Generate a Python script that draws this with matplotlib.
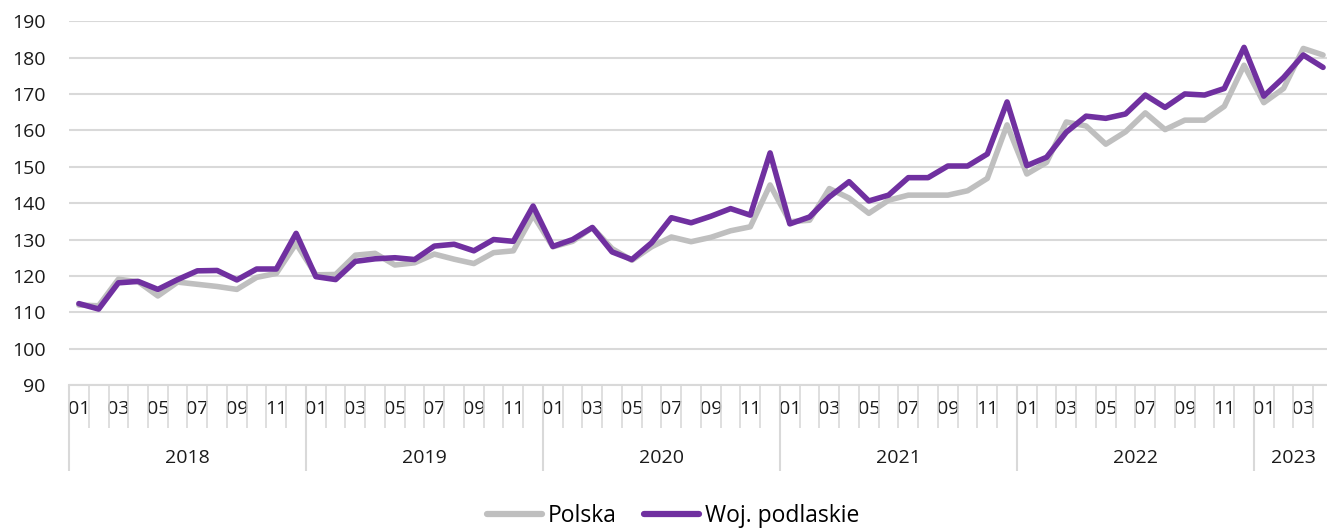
import numpy as np
import matplotlib
matplotlib.use('Agg')
import matplotlib.pyplot as plt
from matplotlib.ticker import FixedLocator, NullFormatter

# monthly index values, 2018-01 .. 2023-04
years = ['2018', '2019', '2020', '2021', '2022', '2023']
months_per_year = [12, 12, 12, 12, 12, 4]

polska = [112.0, 111.8, 119.1, 118.4, 114.5, 118.3, 117.7, 117.1, 116.3, 119.6, 120.7, 128.9,
          120.3, 120.4, 125.7, 126.2, 123.0, 123.6, 126.0, 124.6, 123.4, 126.4, 126.9, 136.7,
          128.0, 129.5, 133.3, 127.5, 124.3, 128.0, 130.7, 129.4, 130.6, 132.4, 133.5, 145.0,
          134.9, 135.3, 144.0, 141.4, 137.2, 140.8, 142.2, 142.2, 142.2, 143.4, 146.8, 161.5,
          148.0, 151.2, 162.3, 161.2, 156.2, 159.6, 164.8, 160.2, 162.8, 162.8, 166.6, 177.9,
          167.6, 171.5, 182.5, 180.7]

podlaskie = [112.4, 110.9, 118.1, 118.5, 116.3, 119.0, 121.4, 121.5, 118.9, 121.9, 121.9, 131.7,
             119.8, 119.0, 124.0, 124.7, 125.0, 124.5, 128.2, 128.7, 126.9, 130.0, 129.5, 139.2,
             128.1, 130.0, 133.3, 126.6, 124.5, 129.1, 136.0, 134.6, 136.4, 138.5, 136.7, 153.8,
             134.3, 136.2, 141.7, 145.9, 140.6, 142.2, 147.0, 147.0, 150.2, 150.2, 153.5, 167.8,
             150.3, 152.6, 159.5, 163.9, 163.3, 164.5, 169.7, 166.3, 170.0, 169.7, 171.5, 182.8,
             169.4, 174.5, 180.7, 177.3]

plt.rcParams['font.family'] = ['Open Sans', 'DejaVu Sans']

n = len(polska)
x = np.arange(n)
month_lab = []
for m in months_per_year:
    month_lab += ['%02d' % (k + 1) for k in range(m)]

fig = plt.figure(figsize=(13.27, 5.29), dpi=100)
ax = fig.add_axes([0.052, 0.272, 0.948, 0.688])

ax.plot(x, polska, color='#BFBFBF', lw=4.0, label='Polska', solid_capstyle='round', zorder=3)
ax.plot(x, podlaskie, color='#7030A0', lw=4.0, label='Woj. podlaskie', solid_capstyle='round', zorder=4)

ax.set_ylim(90, 190)
ax.set_yticks(np.arange(90, 191, 10))
ax.set_xlim(-0.5, n - 0.8)
ax.grid(axis='y', color='#D9D9D9', lw=1.5)
ax.set_axisbelow(True)
for s in ['top', 'right', 'left']:
    ax.spines[s].set_visible(False)
ax.spines['bottom'].set_color('#D9D9D9')
ax.spines['bottom'].set_linewidth(1.5)
ax.tick_params(axis='y', length=0, labelsize=14, pad=17, labelcolor='#1a1a1a')

# month labels on odd months, separators between months
ax.set_xticks(x[::2])
ax.set_xticklabels(month_lab[::2])
ax.xaxis.set_minor_locator(FixedLocator(np.arange(-0.5, n, 1.0)))
ax.tick_params(axis='x', which='major', length=0, labelsize=14, pad=11, labelcolor='#1a1a1a')
ax.tick_params(axis='x', which='minor', length=31, width=1.2, color='#D9D9D9')

# year level
bounds = np.cumsum([0] + months_per_year) - 0.5
centers = [(bounds[i] + bounds[i + 1]) / 2 for i in range(len(years))]
sec = ax.secondary_xaxis('bottom')
sec.spines['bottom'].set_visible(False)
sec.set_xticks(bounds[:-1])
sec.xaxis.set_major_formatter(NullFormatter())
sec.set_xticks(centers, minor=True)
sec.set_xticklabels(years, minor=True)
sec.tick_params(axis='x', which='major', length=62, width=1.5, color='#D9D9D9')
sec.tick_params(axis='x', which='minor', length=0, labelsize=14, pad=46, labelcolor='#1a1a1a')

leg = fig.legend(loc='center', bbox_to_anchor=(0.5075, 0.024), ncol=2, frameon=False,
                 fontsize=16.5, handlelength=2.4, handletextpad=0.25, columnspacing=1.2)
for h in leg.get_lines():
    h.set_solid_capstyle('round')
    h.set_linewidth(4.5)

fig.savefig('out.png', dpi=100)
